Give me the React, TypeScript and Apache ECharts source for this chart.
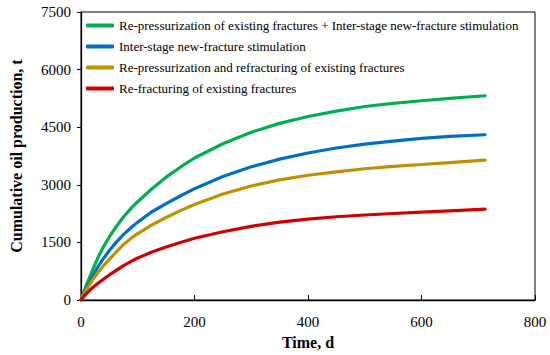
import React, { useEffect, useRef } from "react";
import * as echarts from "echarts";

const days = [0, 5, 10, 20, 30, 40, 50, 60, 75, 90, 100, 125, 150, 175, 200, 250, 300, 350, 400, 450, 500, 550, 600, 650, 712];
const seriesNames = [
  "Re-pressurization of existing fractures + Inter-stage new-fracture stimulation",
  "Inter-stage new-fracture stimulation",
  "Re-pressurization and refracturing of existing fractures",
  "Re-fracturing of existing fractures",
];
const greenValues = [0, 210, 410, 770, 1110, 1400, 1650, 1870, 2170, 2420, 2560, 2900, 3200, 3460, 3700, 4070, 4370, 4600, 4780, 4920, 5040, 5120, 5190, 5250, 5320];
const blueValues = [0, 170, 330, 610, 870, 1090, 1290, 1470, 1710, 1910, 2030, 2300, 2510, 2710, 2900, 3220, 3470, 3670, 3830, 3960, 4060, 4140, 4210, 4260, 4305];
const goldValues = [0, 150, 280, 520, 720, 900, 1060, 1220, 1450, 1630, 1730, 1960, 2150, 2330, 2490, 2760, 2970, 3130, 3250, 3340, 3420, 3480, 3530, 3580, 3645];
const redValues = [0, 95, 175, 320, 440, 550, 655, 755, 895, 1020, 1095, 1250, 1380, 1500, 1610, 1780, 1920, 2030, 2110, 2170, 2215, 2255, 2290, 2325, 2370];
const colors = ["#00B050", "#0070C0", "#BF9000", "#D00000"];
const xTicks = { min: 0, max: 800, interval: 200 };
const yTicks = { min: 0, max: 7500, interval: 1500 };

export default function App() {
  const ref = useRef<HTMLDivElement>(null);
  useEffect(() => {
    if (!ref.current) return;
    const chart = echarts.init(ref.current, null, { renderer: "svg" });
    const valueSets = [greenValues, blueValues, goldValues, redValues];
    const font = "Liberation Serif";
    chart.setOption({
      animation: false,
      backgroundColor: "#fff",
      textStyle: { fontFamily: font },
      grid: {
        left: 77,
        right: 15,
        top: 12,
        bottom: 49,
        show: true,
        borderColor: "#000",
        borderWidth: 1,
        containLabel: false,
      },
      legend: {
        orient: "vertical",
        left: 81,
        top: 14,
        icon: "roundRect",
        itemWidth: 28,
        itemHeight: 4,
        itemGap: 8,
        textStyle: { fontFamily: font, fontSize: 13, color: "#000" },
        data: seriesNames,
      },
      xAxis: {
        type: "value",
        min: xTicks.min,
        max: xTicks.max,
        interval: xTicks.interval,
        name: "Time, d",
        nameLocation: "middle",
        nameGap: 31,
        nameTextStyle: { fontFamily: font, fontSize: 16, fontWeight: "bold", color: "#000" },
        axisLine: { show: true, lineStyle: { color: "#000", width: 1.3 } },
        axisTick: { show: true, inside: true, length: 5, lineStyle: { color: "#000" } },
        axisLabel: { fontFamily: font, fontSize: 15, color: "#000", margin: 14, formatter: (v: number) => String(v) },
        splitLine: { show: false },
      },
      yAxis: {
        type: "value",
        min: yTicks.min,
        max: yTicks.max,
        interval: yTicks.interval,
        name: "Cumulative oil production, t",
        nameLocation: "middle",
        nameGap: 57,
        nameTextStyle: { fontFamily: font, fontSize: 16, fontWeight: "bold", color: "#000" },
        axisLine: { show: true, lineStyle: { color: "#000", width: 1.3 } },
        axisTick: { show: true, inside: false, length: 4, lineStyle: { color: "#000" } },
        axisLabel: { fontFamily: font, fontSize: 15, color: "#000", margin: 10, formatter: (v: number) => String(v) },
        splitLine: { show: false },
      },
      series: seriesNames.map((name, i) => ({
        name,
        type: "line",
        showSymbol: false,
        symbol: "none",
        smooth: false,
        color: colors[i],
        lineStyle: { width: 3.2, color: colors[i], cap: "round", join: "round" },
        data: days.map((d, j) => [d, valueSets[i][j]]),
      })),
    });
    return () => chart.dispose();
  }, []);
  return (
    <div
      ref={ref}
      style={{ position: "fixed", left: 0, top: 0, width: 550, height: 355 }}
    />
  );
}
